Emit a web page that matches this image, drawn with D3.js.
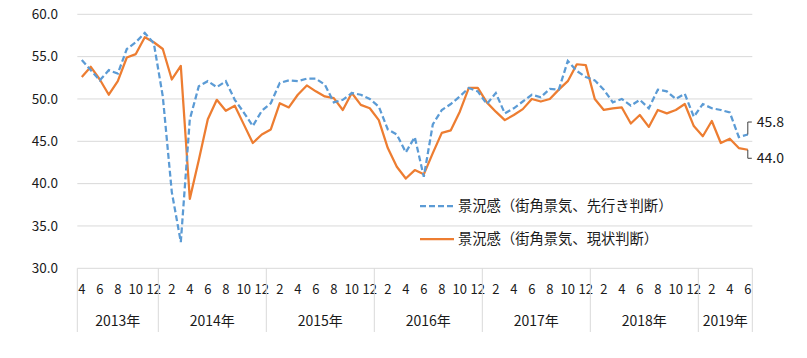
<!DOCTYPE html>
<html><head><meta charset="utf-8">
<script src="https://cdn.jsdelivr.net/npm/d3@7/dist/d3.min.js"></script>
<style>
html,body{margin:0;padding:0;background:#fff;}
svg text{font-family:"Noto Sans CJK JP","Noto Sans",sans-serif;fill:#1a1a1a;}
</style></head>
<body>
<svg id="chart" width="807" height="358"></svg>
<script>
// ---- data ----
const months = [4,5,6,7,8,9,10,11,12,
  1,2,3,4,5,6,7,8,9,10,11,12,
  1,2,3,4,5,6,7,8,9,10,11,12,
  1,2,3,4,5,6,7,8,9,10,11,12,
  1,2,3,4,5,6,7,8,9,10,11,12,
  1,2,3,4,5,6,7,8,9,10,11,12,
  1,2,3,4,5,6];
const years = ["2013年","2014年","2015年","2016年","2017年","2018年","2019年"];
const yearCounts = [9,12,12,12,12,12,6];
const leading = [54.6,53.4,52.2,53.4,53.0,55.9,56.7,57.8,56.6,50.3,39.0,33.1,
  47.6,51.5,52.1,51.4,52.1,49.9,48.4,46.8,48.6,49.5,51.9,52.2,
  52.1,52.4,52.4,51.7,49.6,49.9,50.7,50.5,50.0,49.1,46.4,45.8,
  43.7,45.5,40.8,47.0,48.7,49.4,50.3,51.3,50.9,49.4,50.7,48.3,
  48.9,49.7,50.5,50.2,51.2,51.1,54.5,53.3,52.6,52.2,51.1,49.6,
  50.0,49.2,49.9,48.9,51.1,50.9,50.0,50.6,47.9,49.4,48.9,48.7,
  48.4,45.5,45.8];
const current = [52.6,53.8,52.3,50.5,52.1,54.9,55.3,57.3,56.7,55.9,52.3,53.9,
  38.2,42.8,47.6,49.9,48.6,49.2,47.0,44.8,45.8,46.4,49.5,49.0,
  50.5,51.6,50.9,50.3,50.1,48.7,50.7,49.3,48.9,47.5,44.2,42.0,
  40.6,41.6,41.1,43.6,46.0,46.3,48.5,51.3,51.3,49.6,48.5,47.5,
  48.1,48.8,50.0,49.7,50.0,51.1,52.1,54.1,54.0,50.0,48.7,48.9,
  49.0,47.1,48.1,46.7,48.7,48.3,48.7,49.4,46.8,45.6,47.4,44.8,
  45.3,44.2,44.0];
const yTicks = [30,35,40,45,50,55,60];
const seriesNames = ["景況感（街角景気、先行き判断）","景況感（街角景気、現状判断）"];

// ---- layout ----
const svg = d3.select("#chart");
const pL = 77.3, pR = 752.3, pT = 14.3, pB = 268.3;
const idx = d3.range(months.length);
const x = d3.scaleBand().domain(idx).range([pL, pR]).padding(0);
const cx = i => x(i) + x.bandwidth()/2;
const y = d3.scaleLinear().domain([30,60]).range([pB, pT]);

// gridlines
svg.append("g").selectAll("line").data(yTicks).join("line")
  .attr("x1", pL).attr("x2", pR)
  .attr("y1", d => y(d)).attr("y2", d => y(d))
  .attr("stroke", "#d9d9d9").attr("stroke-width", 1);

// y tick labels
svg.append("g").selectAll("text").data(yTicks).join("text")
  .attr("x", 58).attr("y", d => y(d)).attr("dy", "0.35em")
  .attr("text-anchor", "end").attr("font-size", "13.5px")
  .text(d => d.toFixed(1));

// month labels
svg.append("g").selectAll("text").data(idx.filter(i => months[i] % 2 === 0)).join("text")
  .attr("x", i => cx(i)).attr("y", 289).attr("dy", "0.35em")
  .attr("text-anchor", "middle").attr("font-size", "13px")
  .text(i => months[i]);

// year groups
let starts = [0];
yearCounts.forEach((c, k) => starts.push(starts[k] + c));
const bounds = starts.map(s => s < months.length ? x(s) : pR);
svg.append("g").selectAll("line").data(bounds).join("line")
  .attr("x1", d => d).attr("x2", d => d)
  .attr("y1", pB).attr("y2", 332)
  .attr("stroke", "#d9d9d9").attr("stroke-width", 1);
svg.append("g").selectAll("text").data(years).join("text")
  .attr("x", (d, k) => (bounds[k] + bounds[k+1]) / 2)
  .attr("y", 321).attr("dy", "0.35em")
  .attr("text-anchor", "middle").attr("font-size", "14px")
  .text(d => d);

// lines
const line = d3.line().x((d, i) => cx(i)).y(d => y(d));
svg.append("path").datum(current)
  .attr("fill", "none").attr("stroke", "#ED7D31").attr("stroke-width", 2.25)
  .attr("stroke-linejoin", "round").attr("d", line);
svg.append("path").datum(leading)
  .attr("fill", "none").attr("stroke", "#5B9BD5").attr("stroke-width", 2.25)
  .attr("stroke-dasharray", "6,3").attr("d", line);

// end labels
const last = months.length - 1;
const lx = cx(last);
const endLabels = [
  {v: leading[last], ty: y(leading[last]) - 12.5},
  {v: current[last], ty: y(current[last]) + 8.5}
];
endLabels.forEach(l => {
  svg.append("path")
    .attr("d", `M${lx},${y(l.v)}V${l.ty}H${lx + 4}`)
    .attr("fill", "none").attr("stroke", "#404040").attr("stroke-width", 1);
  svg.append("text").attr("x", lx + 9).attr("y", l.ty).attr("dy", "0.35em")
    .attr("font-size", "14px").text(l.v.toFixed(1));
});

// legend
const legend = [
  {name: seriesNames[0], color: "#5B9BD5", dash: "6,3", yy: 206},
  {name: seriesNames[1], color: "#ED7D31", dash: null, yy: 239}
];
legend.forEach(l => {
  svg.append("line").attr("x1", 420).attr("x2", 454)
    .attr("y1", l.yy).attr("y2", l.yy)
    .attr("stroke", l.color).attr("stroke-width", 2.25)
    .attr("stroke-dasharray", l.dash);
  svg.append("text").attr("x", 458).attr("y", l.yy).attr("dy", "0.35em")
    .attr("font-size", "14.3px").text(l.name);
});
</script>
</body></html>
